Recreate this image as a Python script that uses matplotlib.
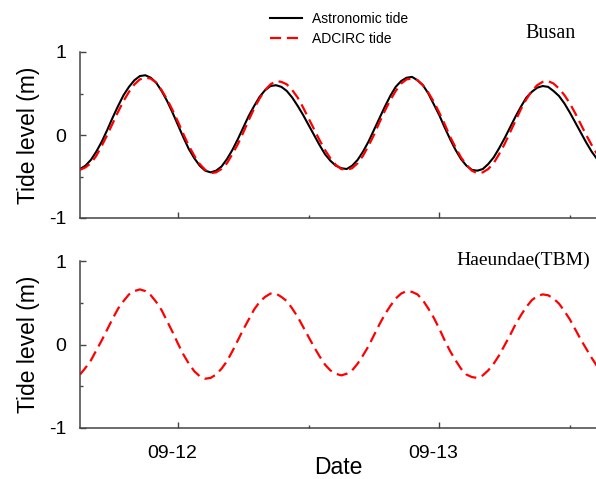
import matplotlib.pyplot as plt
import matplotlib.transforms as mtransforms
import numpy as np

# hours relative to 09-12 00:00, every 30 min
hours = np.arange(-9, 39.5, 0.5)

# Busan
busan_astro = [
    -0.41, -0.37, -0.30, -0.20, -0.08, 0.06, 0.21, 0.35, 0.48, 0.58, 0.66, 0.71,
    0.72, 0.69, 0.63, 0.53, 0.41, 0.27, 0.12, -0.03, -0.17, -0.28, -0.37, -0.43,
    -0.45, -0.43, -0.38, -0.29, -0.18, -0.05, 0.09, 0.23, 0.35, 0.46, 0.54, 0.59,
    0.60, 0.58, 0.53, 0.45, 0.35, 0.24, 0.12, 0.00, -0.12, -0.23, -0.31, -0.37,
    -0.40, -0.41, -0.37, -0.30, -0.20, -0.08, 0.06, 0.20, 0.34, 0.47, 0.58, 0.65,
    0.69, 0.70, 0.66, 0.60, 0.50, 0.37, 0.24, 0.09, -0.05, -0.18, -0.29, -0.37,
    -0.42, -0.43, -0.41, -0.35, -0.27, -0.16, -0.04, 0.09, 0.22, 0.34, 0.45, 0.52,
    0.57, 0.59, 0.58, 0.53, 0.47, 0.38, 0.27, 0.15, 0.03, -0.09, -0.20, -0.29,
    -0.37]
busan_adcirc = [
    -0.42, -0.39, -0.34, -0.25, -0.13, 0.00, 0.14, 0.28, 0.41, 0.52, 0.61, 0.67,
    0.69, 0.68, 0.63, 0.54, 0.43, 0.30, 0.16, 0.01, -0.13, -0.25, -0.35, -0.42,
    -0.46, -0.45, -0.41, -0.34, -0.23, -0.11, 0.03, 0.18, 0.32, 0.44, 0.54, 0.61,
    0.65, 0.64, 0.61, 0.54, 0.45, 0.33, 0.20, 0.07, -0.06, -0.18, -0.28, -0.36,
    -0.41, -0.42, -0.40, -0.34, -0.25, -0.13, 0.00, 0.15, 0.29, 0.42, 0.53, 0.62,
    0.67, 0.68, 0.66, 0.60, 0.51, 0.40, 0.27, 0.13, -0.02, -0.15, -0.27, -0.36,
    -0.43, -0.46, -0.45, -0.41, -0.34, -0.23, -0.11, 0.03, 0.17, 0.31, 0.43, 0.53,
    0.60, 0.64, 0.65, 0.62, 0.56, 0.48, 0.38, 0.26, 0.13, 0.00, -0.12, -0.23,
    -0.33]

# Haeundae (TBM)
haeundae_adcirc = [
    -0.36, -0.28, -0.19, -0.07, 0.05, 0.18, 0.31, 0.43, 0.52, 0.60, 0.64, 0.66,
    0.64, 0.59, 0.51, 0.41, 0.28, 0.15, 0.01, -0.12, -0.23, -0.32, -0.38, -0.41,
    -0.40, -0.36, -0.29, -0.20, -0.08, 0.05, 0.18, 0.30, 0.42, 0.51, 0.57, 0.61,
    0.61, 0.57, 0.52, 0.43, 0.33, 0.21, 0.09, -0.03, -0.14, -0.24, -0.31, -0.35,
    -0.37, -0.35, -0.31, -0.23, -0.13, -0.02, 0.11, 0.24, 0.36, 0.46, 0.55, 0.61,
    0.64, 0.63, 0.60, 0.53, 0.43, 0.32, 0.19, 0.05, -0.08, -0.19, -0.29, -0.36,
    -0.39, -0.40, -0.37, -0.31, -0.23, -0.13, -0.01, 0.11, 0.24, 0.35, 0.45, 0.53,
    0.58, 0.60, 0.59, 0.55, 0.49, 0.40, 0.30, 0.18, 0.06, -0.05, -0.16, -0.26,
    -0.33]

day_ticks = [0, 24]
day_labels = ['09-12', '09-13']
half_ticks = [12, 36]

sans = ['Liberation Sans', 'DejaVu Sans']
serif = ['Liberation Serif', 'DejaVu Serif']
plt.rcParams['font.family'] = sans

fig = plt.figure(figsize=(5.96, 4.79), dpi=100)
ax1 = fig.add_axes([80/596, 1-218/479, 1-80/596, (218-52)/479])
ax2 = fig.add_axes([80/596, 1-428/479, 1-80/596, (428-261)/479])

l1, = ax1.plot(hours, busan_astro, color='black', lw=1.5, label='Astronomic tide')
l2, = ax1.plot(hours, busan_adcirc, color='#ff0000', lw=1.6, ls=(0, (5, 2.6)), label='ADCIRC tide')
ax2.plot(hours, haeundae_adcirc, color='#ff0000', lw=1.6, ls=(0, (5, 2.6)))

ax1.text(0.864, 1.114, 'Busan', transform=ax1.transAxes, fontsize=14.5,
         family=serif, va='center', clip_on=False)
ax2.text(0.730, 1.006, 'Haeundae(TBM)', transform=ax2.transAxes, fontsize=14,
         family=serif, va='center', clip_on=False)

for ax in (ax1, ax2):
    ax.set_xlim(-9, 38.4)
    ax.set_ylim(-1, 1)
    ax.set_yticks([-1, 0, 1])
    ax.set_yticklabels(['-1', '0', '1'])
    ax.set_yticks([-0.5, 0.5], minor=True)
    ax.set_xticks(day_ticks)
    ax.set_xticks(half_ticks, minor=True)
    ax.spines['top'].set_visible(False)
    ax.spines['right'].set_visible(False)
    for s in ('left', 'bottom'):
        ax.spines[s].set_color('#444444')
        ax.spines[s].set_linewidth(1.1)
    ax.tick_params(which='major', direction='in', length=4.5, width=1, color='#444444',
                   labelsize=14, pad=10)
    ax.tick_params(which='minor', direction='in', length=2.2, width=1, color='#444444')
    ax.set_ylabel('Tide level (m)', fontsize=16.5, labelpad=6)

ax1.set_xticklabels([])
ax2.set_xticklabels(day_labels)
ax2.tick_params(axis='x', pad=12)
offset = mtransforms.ScaledTranslation(-6/100, 0, fig.dpi_scale_trans)
for lab in ax2.get_xticklabels():
    lab.set_transform(lab.get_transform() + offset)
ax2.set_xlabel('Date', fontsize=16.5, labelpad=-4)

fig.legend(handles=[l1, l2], loc='upper left', bbox_to_anchor=(270/596, 1-12/479),
           frameon=False, fontsize=10, handlelength=2.3, handletextpad=0.7,
           labelspacing=0.45, borderpad=0, borderaxespad=0)

fig.savefig('out.png', dpi=100)
